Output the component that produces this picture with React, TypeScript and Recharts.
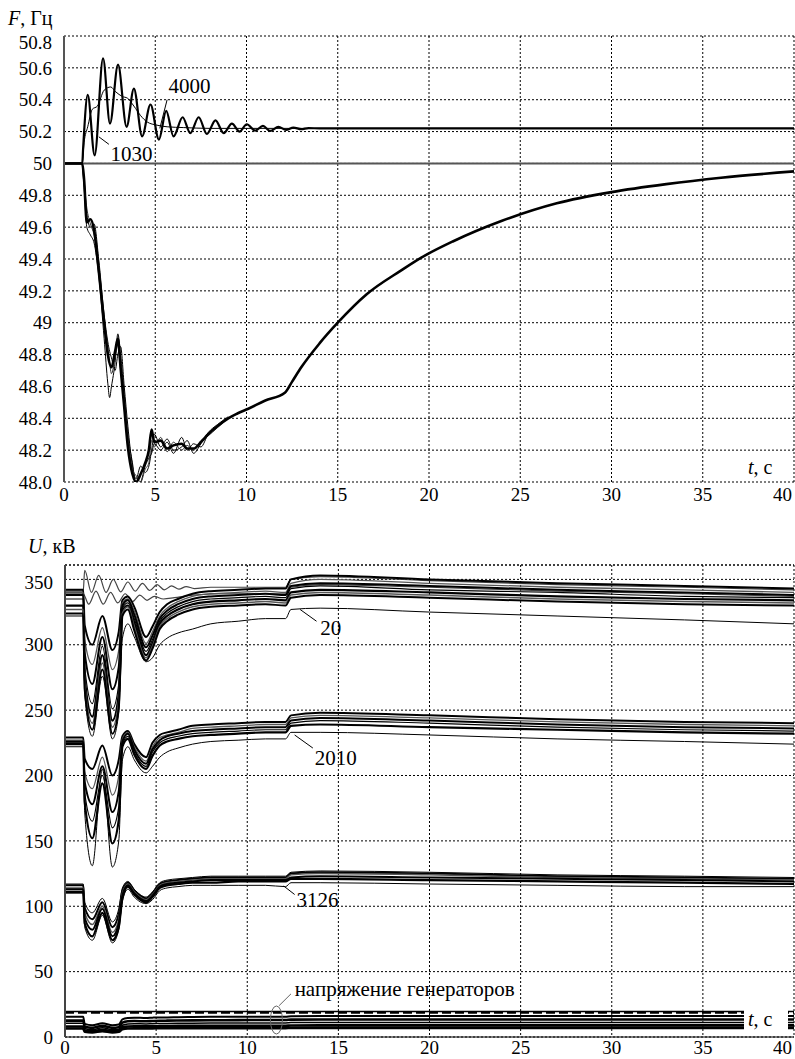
import React from 'react';
import { LineChart, Line, XAxis, YAxis, CartesianGrid, ReferenceLine, ReferenceDot } from 'recharts';

const SERIF = 'Liberation Serif';

// shared time axis, seconds
const timeTicks = [0, 5, 10, 15, 20, 25, 30, 35, 40];

// frequency panel axis
const freqTicks = [48.0, 48.2, 48.4, 48.6, 48.8, 49.0, 49.2, 49.4, 49.6, 49.8, 50.0, 50.2, 50.4, 50.6, 50.8];
const freqTickLabels = ['48.0', '48.2', '48.4', '48.6', '48.8', '49', '49.2', '49.4', '49.6', '49.8', '50', '50.2', '50.4', '50.6', '50.8'];

// voltage panel axis
const voltTicks = [0, 50, 100, 150, 200, 250, 300, 350];

// --- frequency curves ---
const tFlat = [0, 40];
const fFlat = [50, 50];

const t1030 = [0, 1.0, 1.05, 1.3, 1.68, 2.14, 2.52, 2.96, 3.43, 3.83, 4.28, 4.74, 5.2, 5.6, 6.0, 6.5, 6.92, 7.38, 7.83, 8.3, 8.75, 9.2, 9.62, 10.02, 10.48, 10.9, 11.3, 11.75, 12.17, 12.57, 13.0, 13.4, 14.0, 40];
const f1030 = [50, 50, 50.1, 50.43, 50.05, 50.66, 50.25, 50.62, 50.23, 50.47, 50.17, 50.37, 50.15, 50.33, 50.17, 50.29, 50.19, 50.29, 50.185, 50.27, 50.19, 50.25, 50.2, 50.246, 50.206, 50.236, 50.204, 50.23, 50.21, 50.225, 50.215, 50.222, 50.22, 50.22];

const t4000 = [0, 1.0, 1.1, 1.3, 1.55, 1.83, 2.2, 2.56, 2.83, 3.2, 3.47, 3.83, 4.2, 4.56, 5.1, 5.65, 6.56, 8, 40];
const f4000 = [50, 50, 50.13, 50.23, 50.34, 50.36, 50.46, 50.48, 50.45, 50.42, 50.41, 50.36, 50.3, 50.26, 50.24, 50.23, 50.225, 50.22, 50.22];

const tDrop = [0, 1.0, 1.1, 1.25, 1.45, 1.65, 1.9, 2.2, 2.4, 2.6, 2.8, 2.95, 3.1, 3.3, 3.5, 3.75, 3.95, 4.2, 4.45, 4.65, 4.8, 4.95, 5.3, 5.65, 6.0, 6.45, 6.75, 7.1, 7.5, 7.9, 8.4, 9.0, 9.5, 10.1, 11.0, 12.1, 12.5, 13.0, 14.0, 15.0, 16.6, 18.5, 19.6, 21.3, 24, 27, 30, 33, 36, 40];
const fDrop = [50, 50, 49.9, 49.63, 49.65, 49.58, 49.33, 49.0, 48.8, 48.72, 48.82, 48.9, 48.72, 48.47, 48.22, 48.05, 48.0, 48.05, 48.12, 48.2, 48.33, 48.25, 48.26, 48.21, 48.23, 48.24, 48.21, 48.21, 48.25, 48.3, 48.35, 48.4, 48.43, 48.46, 48.51, 48.56, 48.63, 48.72, 48.87, 49.0, 49.18, 49.33, 49.41, 49.51, 49.64, 49.75, 49.82, 49.87, 49.91, 49.95];

const tVar = [1.0, 1.1, 1.25, 1.45, 1.65, 1.9, 2.2, 2.4, 2.5, 2.6, 2.8, 2.95, 3.1, 3.3, 3.5, 3.75, 3.95, 4.2, 4.45, 4.65, 4.8, 4.95, 5.3, 5.65, 6.0, 6.45, 6.75, 7.1, 7.5, 7.9, 8.4, 9.0];
const fVar1 = [50, 49.85, 49.6, 49.55, 49.5, 49.3, 48.9, 48.62, 48.53, 48.6, 48.75, 48.93, 48.8, 48.55, 48.3, 48.12, 47.98, 48.0, 48.1, 48.15, 48.18, 48.24, 48.2, 48.25, 48.18, 48.28, 48.2, 48.24, 48.22, 48.3, 48.35, 48.4];
const fVar2 = [50, 49.9, 49.68, 49.6, 49.62, 49.4, 49.05, 48.88, 48.82, 48.78, 48.7, 48.8, 48.85, 48.6, 48.35, 48.1, 48.02, 48.1, 48.06, 48.1, 48.2, 48.3, 48.22, 48.27, 48.2, 48.22, 48.26, 48.18, 48.24, 48.31, 48.36, 48.41];
const fVar3 = [50, 49.88, 49.72, 49.62, 49.55, 49.36, 49.02, 48.85, 48.75, 48.68, 48.78, 48.86, 48.7, 48.5, 48.28, 48.08, 48.04, 48.0, 48.08, 48.12, 48.26, 48.22, 48.28, 48.19, 48.25, 48.2, 48.23, 48.2, 48.26, 48.29, 48.34, 48.4];

// --- voltage curves (kV) on a common time grid ---
const tU = [0, 1, 1.08, 1.5, 2.05, 2.6, 2.95, 3.15, 3.45, 3.8, 4.45, 4.8, 5.2, 5.6, 6.2, 7, 8, 9.5, 11, 12.1, 12.4, 14, 20, 27, 34, 40];

const uA1 = [342, 342, 315, 300, 322, 296, 310, 334, 337, 329, 306, 314, 325, 331, 335, 339, 341, 342, 343, 343, 350, 353, 350, 347, 345, 343];
const uA2 = [340, 340, 304, 285, 313, 281, 296, 332, 335, 326, 301, 310, 322, 328, 333, 337, 339, 340, 341, 340, 347, 350, 347, 344, 342, 340];
const uA3 = [338, 338, 294, 270, 306, 266, 283, 330, 334, 323, 298, 307, 320, 326, 331, 335, 337, 338, 339, 338, 345, 347, 345, 342, 340, 338];
const uA4 = [335, 335, 283, 255, 299, 251, 270, 328, 332, 320, 295, 304, 318, 324, 329, 333, 335, 336, 337, 336, 343, 345, 342, 340, 337, 336];
const uA5 = [330, 330, 275, 245, 292, 242, 262, 326, 330, 317, 292, 301, 316, 322, 327, 331, 333, 334, 335, 334, 340, 342, 340, 337, 335, 334];
const uA6 = [327, 327, 270, 240, 286, 237, 257, 324, 329, 314, 290, 299, 314, 320, 325, 329, 331, 332, 333, 332, 338, 340, 338, 335, 333, 332];
const uA7 = [324, 324, 266, 235, 281, 232, 252, 322, 327, 311, 288, 297, 312, 318, 323, 327, 329, 330, 331, 330, 336, 338, 336, 333, 331, 330];
const u20 = [322, 322, 262, 230, 276, 228, 248, 305, 316, 306, 287, 290, 300, 305, 309, 312, 316, 318, 320, 320, 327, 328, 325, 322, 319, 316];

const uB1 = [229, 229, 213, 205, 223, 200, 212, 230, 234, 224, 214, 225, 231, 233, 235, 238, 239, 240, 241, 241, 246, 248, 246, 243, 241, 240];
const uB2 = [227, 227, 203, 190, 214, 185, 200, 228, 233, 222, 211, 222, 229, 231, 233, 236, 237, 238, 239, 239, 244, 246, 244, 241, 239, 238];
const uB3 = [226, 226, 195, 178, 207, 172, 188, 226, 232, 220, 209, 220, 227, 230, 232, 234, 235, 236, 237, 237, 242, 244, 242, 239, 237, 236];
const uB4 = [225, 225, 187, 165, 200, 160, 176, 224, 230, 218, 207, 218, 225, 228, 230, 232, 233, 234, 235, 235, 240, 242, 240, 237, 235, 234];
const uB5 = [224, 224, 180, 152, 194, 148, 166, 222, 228, 216, 205, 215, 223, 226, 228, 230, 231, 232, 233, 233, 238, 239, 237, 235, 233, 232];
const u2010 = [222, 222, 172, 131, 205, 130, 150, 212, 222, 212, 202, 207, 214, 218, 221, 224, 226, 227, 228, 228, 233, 233, 231, 228, 226, 224];

const uC1 = [117, 117, 103, 95, 106, 88, 98, 114, 119, 113, 107, 111, 118, 120, 121, 122, 123, 123, 123, 123, 126, 127, 126, 124, 123, 122];
const uC2 = [116, 116, 99, 90, 103, 84, 94, 112, 118, 112, 106, 110, 117, 119, 120, 121, 122, 122, 122, 122, 125, 126, 125, 123, 122, 121];
const uC3 = [114, 114, 95, 86, 100, 80, 90, 110, 117, 111, 105, 109, 116, 118, 119, 120, 121, 121, 121, 121, 124, 125, 124, 122, 121, 120];
const uC4 = [113, 113, 91, 82, 98, 77, 87, 108, 116, 110, 104, 108, 115, 117, 118, 119, 120, 120, 120, 120, 122, 123, 122, 121, 120, 119];
const uC5 = [111, 111, 87, 77, 95, 74, 84, 106, 115, 109, 103, 107, 114, 116, 117, 118, 118, 119, 119, 119, 121, 121, 120, 119, 118, 117];
const u3126 = [110, 110, 84, 74, 93, 72, 82, 104, 113, 107, 102, 105, 112, 114, 115, 116, 116, 116, 116, 115, 118, 118, 117, 116, 115, 115];

const uD2 = [15.5, 15.5, 10, 9, 10.5, 9, 9.5, 13.5, 14.5, 14.8, 14.5, 14.8, 15, 15, 15.2, 15.3, 15.4, 15.5, 15.5, 15.5, 15.8, 16, 16, 16, 16, 16];
const uD3 = [12.5, 12.5, 8, 7, 8.5, 7, 7.5, 11, 12, 12.2, 12, 12.2, 12.4, 12.5, 12.6, 12.7, 12.8, 12.9, 13, 13, 13.3, 13.4, 13.4, 13.4, 13.4, 13.4];
const uD4 = [10.5, 10.5, 6.5, 5.5, 7, 5.5, 6, 9, 10, 10.2, 10, 10.2, 10.3, 10.4, 10.5, 10.6, 10.7, 10.8, 10.8, 10.8, 11, 11.1, 11.1, 11.1, 11.1, 11.1];
const uD5 = [8, 8, 5, 4.5, 5.5, 4.5, 5, 7.5, 8, 8.2, 8.1, 8.2, 8.3, 8.4, 8.5, 8.5, 8.6, 8.6, 8.6, 8.6, 8.8, 8.9, 8.9, 8.9, 8.9, 8.9];
const uD6 = [6.5, 6.5, 4, 3.5, 4.5, 3.5, 4, 6, 6.5, 6.6, 6.6, 6.6, 6.7, 6.7, 6.8, 6.8, 6.8, 6.8, 6.8, 6.8, 7, 7, 7, 7, 7, 7];
const tD1 = [0, 40];
const uD1 = [19.5, 19.5];
const uD1b = [18.6, 18.6];

// the two lightly loaded 330 kV buses that swing upward
const tOA = [0, 1.0, 1.08, 1.45, 1.85, 2.25, 2.65, 3.05, 3.45, 3.85, 4.25, 4.65, 5.05, 5.45, 5.85, 6.25, 6.65, 7.1, 8, 12.1, 12.4, 14, 20, 27, 34, 40];
const uOA = [341, 341, 357, 340, 353, 340, 350, 340.5, 348, 341, 347, 341.5, 346, 342, 345, 342.5, 344.5, 343, 344, 344, 350, 352, 349, 346, 344, 342];
const tOB = [0, 1.0, 1.3, 1.7, 2.1, 2.5, 2.9, 3.3, 3.7, 4.1, 4.5, 4.9, 5.4, 6, 7, 9, 12.1, 12.4, 14, 20, 27, 34, 40];
const uOB = [339, 339, 331, 341, 331, 340, 332, 339, 333, 338, 334, 337, 335, 336, 338, 339, 339, 344, 346, 344, 341, 339, 337];

const zip = (ts: number[], vs: number[]) => ts.map((t, i) => ({ t, v: vs[i] }));

const freqSeries = [
  { id: 'flat', data: zip(tFlat, fFlat), stroke: '#555', w: 2 },
  { id: 'f4000', data: zip(t4000, f4000), stroke: '#000', w: 1 },
  { id: 'v1', data: zip(tVar, fVar1), stroke: '#000', w: 1 },
  { id: 'v2', data: zip(tVar, fVar2), stroke: '#000', w: 1 },
  { id: 'v3', data: zip(tVar, fVar3), stroke: '#333', w: 1 },
  { id: 'drop', data: zip(tDrop, fDrop), stroke: '#000', w: 2.6 },
  { id: 'f1030', data: zip(t1030, f1030), stroke: '#000', w: 2.2 },
];

const voltSeries = [
  { id: 'OA', data: zip(tOA, uOA), stroke: '#444', w: 1.2 },
  { id: 'OB', data: zip(tOB, uOB), stroke: '#444', w: 1.2 },
  { id: 'A1', data: zip(tU, uA1), stroke: '#000', w: 2 },
  { id: 'A2', data: zip(tU, uA2), stroke: '#555', w: 1.3 },
  { id: 'A3', data: zip(tU, uA3), stroke: '#000', w: 2 },
  { id: 'A4', data: zip(tU, uA4), stroke: '#000', w: 1.2 },
  { id: 'A5', data: zip(tU, uA5), stroke: '#000', w: 2.2 },
  { id: 'A6', data: zip(tU, uA6), stroke: '#555', w: 1.5 },
  { id: 'A7', data: zip(tU, uA7), stroke: '#000', w: 2 },
  { id: '20', data: zip(tU, u20), stroke: '#000', w: 1 },
  { id: 'B1', data: zip(tU, uB1), stroke: '#000', w: 2 },
  { id: 'B2', data: zip(tU, uB2), stroke: '#555', w: 1.3 },
  { id: 'B3', data: zip(tU, uB3), stroke: '#000', w: 2 },
  { id: 'B4', data: zip(tU, uB4), stroke: '#000', w: 1.2 },
  { id: 'B5', data: zip(tU, uB5), stroke: '#000', w: 2.2 },
  { id: '2010', data: zip(tU, u2010), stroke: '#000', w: 1 },
  { id: 'C1', data: zip(tU, uC1), stroke: '#000', w: 1 },
  { id: 'C2', data: zip(tU, uC2), stroke: '#000', w: 2 },
  { id: 'C3', data: zip(tU, uC3), stroke: '#555', w: 1.5 },
  { id: 'C4', data: zip(tU, uC4), stroke: '#000', w: 2 },
  { id: 'C5', data: zip(tU, uC5), stroke: '#000', w: 2.2 },
  { id: '3126', data: zip(tU, u3126), stroke: '#000', w: 1 },
  { id: 'D1', data: zip(tD1, uD1), stroke: '#000', w: 1.5 },
  { id: 'D2', data: zip(tU, uD2), stroke: '#000', w: 2 },
  { id: 'D3', data: zip(tU, uD3), stroke: '#000', w: 2.6 },
  { id: 'D4', data: zip(tU, uD4), stroke: '#000', w: 1.5 },
  { id: 'D5', data: zip(tU, uD5), stroke: '#000', w: 2.6 },
  { id: 'D6', data: zip(tU, uD6), stroke: '#000', w: 2.6 },
];

function FreqTick({ x, y, payload }: any) {
  const i = freqTicks.indexOf(payload.value);
  const shift = payload.value === 50.8 ? 6 : 0;
  return (
    <text x={x} y={y + shift} dy="0.35em" textAnchor="end" fontSize={19} fontFamily={SERIF} fill="#000">
      {i >= 0 ? freqTickLabels[i] : payload.value}
    </text>
  );
}

function VoltTick({ x, y, payload }: any) {
  const shift = payload.value === 350 ? 3 : 0;
  return (
    <text x={x} y={y + shift} dy="0.35em" textAnchor="end" fontSize={19} fontFamily={SERIF} fill="#000">
      {payload.value}
    </text>
  );
}

function TimeTick({ x, y, payload }: any) {
  const last = payload.value === 40;
  return (
    <text x={last ? x - 2 : x} y={y} dy="0.71em" textAnchor={last ? 'end' : 'middle'} fontSize={19} fontFamily={SERIF} fill="#000">
      {payload.value}
    </text>
  );
}

// text placed at a data point
const note = (text: string) => (p: any) => (
  <text x={p.cx} y={p.cy} dy="0.35em" fontSize={21} fontFamily={SERIF} fill="#000">{text}</text>
);

const ellipse = (p: any) => (
  <ellipse cx={p.cx} cy={p.cy} rx={6} ry={14} fill="none" stroke="#666" strokeWidth={1} />
);

export default function App() {
  return (
    <div style={{ position: 'absolute', left: 0, top: 0, width: 795, height: 1059, background: '#fff', overflow: 'hidden' }}>
      <div style={{ position: 'absolute', left: 0, top: 0 }}>
        <LineChart width={795} height={520} margin={{ top: 36, right: 1, bottom: 8, left: 0 }}>
          <CartesianGrid stroke="#000" strokeDasharray="2 2" strokeWidth={1} />
          <XAxis dataKey="t" type="number" domain={[0, 40]} ticks={timeTicks} interval={0} allowDataOverflow
            axisLine={false} tickLine={false} tickSize={0} tickMargin={6} height={30} tick={<TimeTick />} />
          <YAxis type="number" domain={[48, 50.8]} ticks={freqTicks} interval={0} allowDataOverflow width={64}
            axisLine={{ stroke: '#555', strokeWidth: 2 }} tickLine={false} tickSize={0} tickMargin={12} tick={<FreqTick />} />
          {freqSeries.map((s) => (
            <Line key={s.id} data={s.data} dataKey="v" type="monotone" stroke={s.stroke} strokeWidth={s.w}
              dot={false} activeDot={false} isAnimationActive={false} />
          ))}
          <ReferenceLine segment={[{ x: 5.25, y: 50.22 }, { x: 5.65, y: 50.4 }]} stroke="#000" strokeWidth={1} />
          <ReferenceDot x={5.72} y={50.486} r={0} shape={note('4000')} />
          <ReferenceLine segment={[{ x: 1.91, y: 50.167 }, { x: 2.46, y: 50.12 }]} stroke="#000" strokeWidth={1} />
          <ReferenceDot x={2.55} y={50.06} r={0} shape={note('1030')} />
        </LineChart>
      </div>

      <div style={{ position: 'absolute', left: 0, top: 520 }}>
        <LineChart width={795} height={539} margin={{ top: 45, right: 1, bottom: 2, left: 0 }}>
          <CartesianGrid stroke="#000" strokeDasharray="2 2" strokeWidth={1} />
          <ReferenceLine y={361} stroke="#000" strokeDasharray="2 2" />
          <XAxis dataKey="t" type="number" domain={[0, 40]} ticks={timeTicks} interval={0} allowDataOverflow
            axisLine={{ stroke: '#000', strokeWidth: 1 }} tickLine={false} tickSize={0} tickMargin={4} height={20} tick={<TimeTick />} />
          <YAxis type="number" domain={[0, 361]} ticks={voltTicks} interval={0} allowDataOverflow width={65}
            axisLine={{ stroke: '#444', strokeWidth: 2 }} tickLine={false} tickSize={0} tickMargin={12} tick={<VoltTick />} />
          {voltSeries.map((s) => (
            <Line key={s.id} data={s.data} dataKey="v" type="monotone" stroke={s.stroke} strokeWidth={s.w}
              dot={false} activeDot={false} isAnimationActive={false} />
          ))}
          <Line data={zip(tD1, uD1b)} dataKey="v" type="linear" stroke="#000" strokeWidth={2}
            strokeDasharray="9 4" dot={false} activeDot={false} isAnimationActive={false} />
          <ReferenceLine segment={[{ x: 12.9, y: 327 }, { x: 13.8, y: 318 }]} stroke="#000" strokeWidth={1} />
          <ReferenceDot x={14.0} y={313} r={0} shape={note('20')} />
          <ReferenceLine segment={[{ x: 12.6, y: 231 }, { x: 13.6, y: 221 }]} stroke="#000" strokeWidth={1} />
          <ReferenceDot x={13.7} y={214} r={0} shape={note('2010')} />
          <ReferenceLine segment={[{ x: 12.0, y: 115.5 }, { x: 12.6, y: 109 }]} stroke="#000" strokeWidth={1} />
          <ReferenceDot x={12.7} y={105} r={0} shape={note('3126')} />
          <ReferenceLine segment={[{ x: 11.75, y: 24 }, { x: 12.4, y: 33 }]} stroke="#666" strokeWidth={1} />
          <ReferenceDot x={11.6} y={13} r={0} shape={ellipse} />
          <ReferenceDot x={12.6} y={37} r={0} shape={note('напряжение генераторов')} />
        </LineChart>
      </div>

      <svg width={795} height={1059} style={{ position: 'absolute', left: 0, top: 0, pointerEvents: 'none' }}
        fontFamily={SERIF} fontSize={20} fill="#000">
        <text x={8} y={25}><tspan fontStyle="italic">F</tspan>, Гц</text>
        <text x={748} y={474}><tspan fontStyle="italic">t</tspan>, с</text>
        <text x={28} y={553}><tspan fontStyle="italic">U</tspan>, кВ</text>
        <rect x={744} y={1006} width={44} height={26} fill="#fff" />
        <text x={748} y={1026}><tspan fontStyle="italic">t</tspan>, с</text>
      </svg>
    </div>
  );
}
